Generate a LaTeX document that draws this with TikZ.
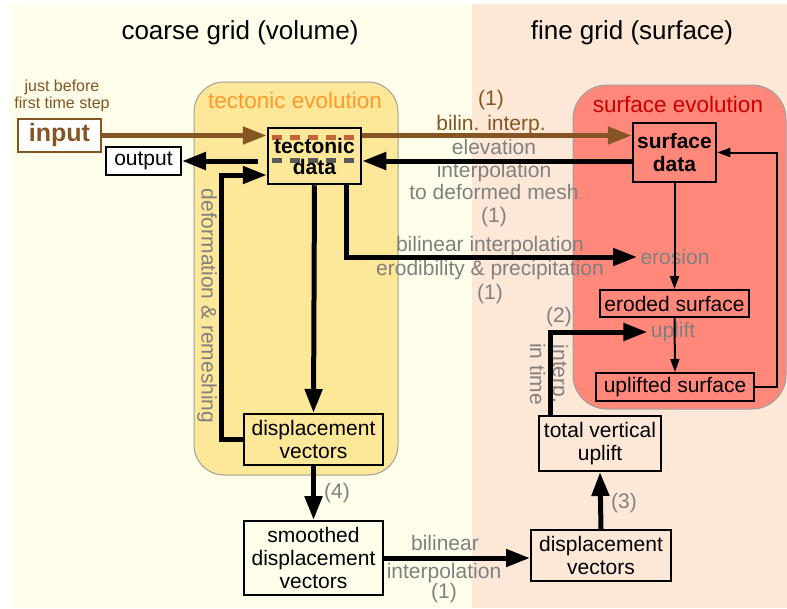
\documentclass[tikz,border=0pt]{standalone}
\usepackage{fontspec}
\setmainfont{Liberation Sans}
\usetikzlibrary{arrows.meta,calc}
\definecolor{creambg}{RGB}{255,254,235}
\definecolor{peachbg}{RGB}{253,232,216}
\definecolor{tectfill}{RGB}{253,231,153}
\definecolor{surffill}{RGB}{255,136,122}
\definecolor{tectorange}{RGB}{255,153,40}
\definecolor{surfred}{RGB}{204,0,0}
\definecolor{inbrown}{RGB}{133,85,35}
\definecolor{dashbrown}{RGB}{196,98,56}
\definecolor{labelgray}{RGB}{128,128,128}
\tikzset{
  box/.style={draw, line width=2pt, align=center, inner sep=0pt},
  fat/.style={line width=5pt, -{Triangle[length=24pt,width=17pt]}},
  slim/.style={line width=2pt, -{Triangle[length=13pt,width=9pt]}},
  lbl/.style={text=labelgray, align=center},
}
\begin{document}
\begin{tikzpicture}[x=1pt, y=-1pt, font=\fontsize{21}{23}\selectfont]
\useasboundingbox (0,0) rectangle (787,608);
\fill[creambg] (10,4) rectangle (472,608);
\fill[peachbg] (472,4) rectangle (787,608);
\filldraw[fill=tectfill, draw=gray!75, line width=1pt, rounded corners=30pt] (194,82) rectangle (398,475);
\filldraw[fill=surffill, draw=gray!75, line width=1pt, rounded corners=34pt] (573,85) rectangle (786,409);
\node[font=\fontsize{26}{30}\selectfont] (coarse) at (240,33) {coarse grid (volume)};
\node[font=\fontsize{26}{30}\selectfont] (fine) at (632,33) {fine grid (surface)};
\node[text=tectorange, font=\fontsize{22.5}{25}\selectfont] (tectevo) at (295,100) {tectonic evolution};
\node[text=surfred, font=\fontsize{22.5}{25}\selectfont] (surfevo) at (678,104) {surface evolution};
\node[text=inbrown, align=center, font=\fontsize{16}{17}\selectfont] (before) at (62,96) {just before\\first time step};
\node[box, draw=inbrown, text=inbrown, fill=white, font=\bfseries\fontsize{25}{28}\selectfont, minimum width=83pt, minimum height=33pt] (input) at (59.5,135.5) {input};
\node[box, fill=white, minimum width=75pt, minimum height=28pt] (output) at (143.5,161) {output};
\node[box, fill=tectfill, line width=2.5pt, font=\bfseries\fontsize{21}{21}\selectfont, minimum width=93pt, minimum height=56pt,
  path picture={
    \draw[dashbrown, line width=5pt, dash pattern=on 10pt off 8pt] ($(path picture bounding box.north west)+(4,9)$) -- ($(path picture bounding box.north east)+(0,9)$);
    \draw[black!65, line width=5pt, dash pattern=on 10pt off 8pt] ($(path picture bounding box.north west)+(4,32)$) -- ($(path picture bounding box.north east)+(0,32)$);
  }] (tecto) at (314.5,156) {tectonic\\data};
\node[box, fill=surffill, line width=2.5pt, font=\bfseries\fontsize{21}{23}\selectfont, minimum width=83pt, minimum height=59pt] (surf) at (674.5,152.5) {surface\\data};
\node[box, fill=surffill, minimum width=149pt, minimum height=27pt] (eroded) at (674.5,303.5) {eroded surface};
\node[box, fill=surffill, minimum width=158pt, minimum height=28pt] (uplifted) at (675,387) {uplifted surface};
\node[box, minimum width=122pt, minimum height=55pt] (total) at (600,443.5) {total vertical\\uplift};
\node[box, fill=tectfill, minimum width=139pt, minimum height=51pt] (dispL) at (313.5,439.5) {displacement\\vectors};
\node[box, minimum width=139pt, minimum height=74pt] (smooth) at (313.5,558) {smoothed\\displacement\\vectors};
\node[box, minimum width=140pt, minimum height=51pt] (dispR) at (601,555.5) {displacement\\vectors};
\node[lbl] (erosion) at (675,257) {erosion};
\node[lbl] (uplift) at (673,332) {uplift};
\node[text=inbrown, align=center, font=\fontsize{21}{25}\selectfont] (bilin) at (491,112.5) {(1)\\bilin. interp.};
\node[lbl, font=\fontsize{21}{22.5}\selectfont] (deformmesh) at (494,183) {elevation\\interpolation\\to deformed mesh\\(1)};
\node[lbl, font=\fontsize{21}{24}\selectfont] (erodlbl) at (490,270) {bilinear interpolation\\erodibility \& precipitation\\(1)};
\node[lbl, rotate=-90] (deformlbl) at (207,306) {deformation \& remeshing};
\node[lbl] (two) at (559,317) {(2)};
\node[lbl, rotate=-90, font=\fontsize{21}{23}\selectfont] (intime) at (549,374) {interp.\\in time};
\node[lbl] (four) at (337,493) {(4)};
\node[lbl] (three) at (624,503) {(3)};
\node[lbl] (bilinear) at (445,543) {bilinear};
\node[lbl, font=\fontsize{21}{20}\selectfont] (interpone) at (444,583) {interpolation\\(1)};
\draw[fat, inbrown] (input.east) -- (input.east -| tecto.west);
\draw[fat, inbrown] (tecto.east |- input.east) -- (surf.west |- input.east);
\draw[fat] (surf.west |- output.east) -- (tecto.east |- output.east);
\draw[fat] ($(tecto.west |- output.east)+(-9,0)$) -- (output.east);
\draw[fat] (dispL.west) -- ++(-22,0) |- ($(tecto.west)+(0,19)$);
\draw[fat] (tecto.south) -- (dispL.north);
\draw[fat] ($(tecto.south)+(32,0)$) |- (erosion.west);
\draw[slim] (surf.south) -- (eroded.north);
\draw[slim] (eroded.south) -- (uplifted.north);
\draw[slim] (uplifted.east) -- ++(22,0) |- (surf.east);
\draw[fat] ($(total.north)+(-50,0)$) |- (uplift.west);
\draw[fat] (dispR.north) -- (total.south);
\draw[fat] (dispL.south) -- (smooth.north);
\draw[fat] (smooth.east) -- (smooth.east -| dispR.west);
\end{tikzpicture}
\end{document}
